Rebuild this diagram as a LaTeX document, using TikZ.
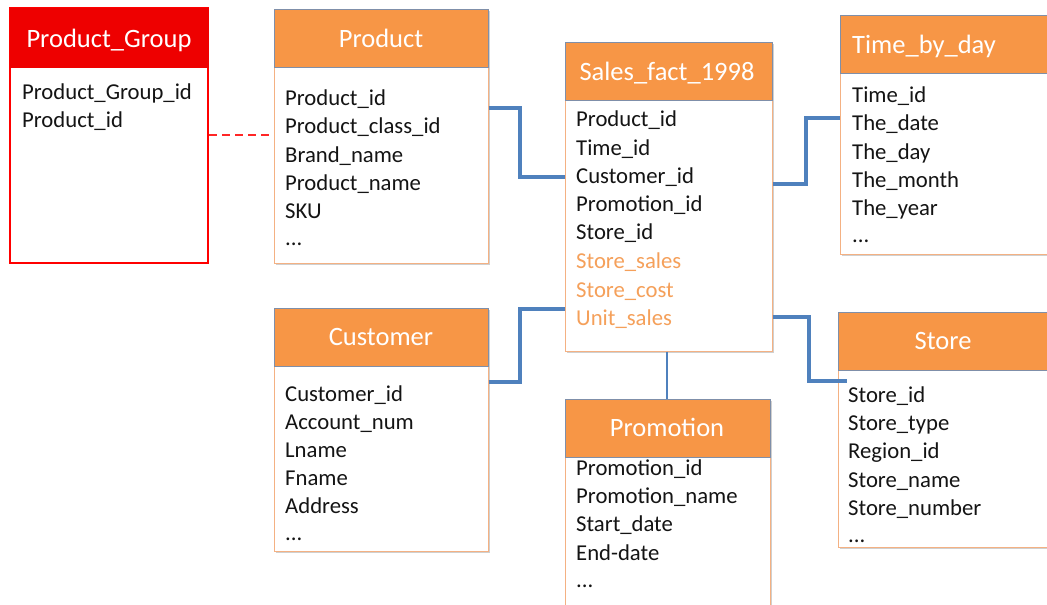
\documentclass[tikz,border=0pt]{standalone}
\usepackage{fontspec}
\setmainfont{Carlito}
\usetikzlibrary{fit,shadows}
\definecolor{orH}{HTML}{F79646}
\definecolor{hline}{HTML}{7F8FA9}
\definecolor{bline}{HTML}{F4B183}
\definecolor{lnk}{HTML}{4F81BD}
\definecolor{redH}{HTML}{EE0000}
\definecolor{txt}{HTML}{141414}
\definecolor{meas}{HTML}{F5A05A}
\begin{document}
\begin{tikzpicture}[x=1pt,y=-1pt,
 body/.style={draw=bline, line width=1pt, fill=white, inner sep=0pt,
   drop shadow={shadow xshift=1.5pt, shadow yshift=-1.5pt, opacity=0.3, fill=black!60}},
 hdr/.style={draw=hline, line width=0.8pt, fill=orH, inner sep=0pt},
 ttl/.style={anchor=base, text=white, font=\fontsize{26.5}{31}\selectfont, inner sep=0pt},
 row/.style={anchor=base west, text=txt, font=\fontsize{22.7}{27}\selectfont, inner sep=0pt},
 mrow/.style={row, text=meas},
 link/.style={draw=lnk, line width=3.6pt},
 ]
\useasboundingbox[fill=white] (0,0) rectangle (1047,605);

% Product_Group
\node[draw=red, line width=2pt, fill=white, inner sep=0pt, fit={(10,8)(208,263)}] (pgb) {};
\node[draw=redH, fill=redH, inner sep=0pt, fit={(10,8)(208,67)}] (pgh) {};
\node[ttl] (pgt) at (109,47) {Product\_Group};
\node[row] (pg1) at (22,99) {Product\_Group\_id};
\node[row] (pg2) at (22,127) {Product\_id};

% Product
\node[body, fit={(274,9)(488,263)}] (prb) {};
\node[hdr, fit={(274,9)(488,67)}] (prh) {};
\node[ttl] (prt) at (381,47) {Product};
\node[row] (pr1) at (285,105) {Product\_id};
\node[row] (pr2) at (285,133) {Product\_class\_id};
\node[row] (pr3) at (285,162) {Brand\_name};
\node[row] (pr4) at (285,190) {Product\_name};
\node[row] (pr5) at (285,218) {SKU};
\node[row] (pr6) at (285,245) {...};

% Sales_fact_1998
\node[body, fit={(565,42)(772,351)}] (sfb) {};
\node[hdr, fit={(565,42)(772,100)}] (sfh) {};
\node[ttl] (sft) at (667,80) {Sales\_fact\_1998};
\node[row] (sf1) at (576,126) {Product\_id};
\node[row] (sf2) at (576,155) {Time\_id};
\node[row] (sf3) at (576,183) {Customer\_id};
\node[row] (sf4) at (576,211) {Promotion\_id};
\node[row] (sf5) at (576,239) {Store\_id};
\node[mrow] (sf6) at (576,268) {Store\_sales};
\node[mrow] (sf7) at (576,297) {Store\_cost};
\node[mrow] (sf8) at (576,325) {Unit\_sales};

% Time_by_day
\node[body, fit={(840,15)(1060,254)}] (tdb) {};
\node[hdr, fit={(840,15)(1060,73)}] (tdh) {};
\node[ttl, anchor=base west] (tdt) at (852,53) {Time\_by\_day};
\node[row] (td1) at (852,102) {Time\_id};
\node[row] (td2) at (852,130) {The\_date};
\node[row] (td3) at (852,159) {The\_day};
\node[row] (td4) at (852,187) {The\_month};
\node[row] (td5) at (852,215) {The\_year};
\node[row] (td6) at (852,242) {...};

% Customer
\node[body, fit={(274,308)(488,551)}] (cub) {};
\node[hdr, fit={(274,308)(488,366)}] (cuh) {};
\node[ttl] (cut) at (381,345) {Customer};
\node[row] (cu1) at (285,401) {Customer\_id};
\node[row] (cu2) at (285,429) {Account\_num};
\node[row] (cu3) at (285,457) {Lname};
\node[row] (cu4) at (285,485) {Fname};
\node[row] (cu5) at (285,513) {Address};
\node[row] (cu6) at (285,540) {...};

% Promotion
\node[body, fit={(565,399)(770,620)}] (pmb) {};
\node[hdr, fit={(565,399)(770,457)}] (pmh) {};
\node[ttl] (pmt) at (667,436) {Promotion};
\node[row] (pm1) at (576,475) {Promotion\_id};
\node[row] (pm2) at (576,503) {Promotion\_name};
\node[row] (pm3) at (576,531) {Start\_date};
\node[row] (pm4) at (576,560) {End-date};
\node[row] (pm5) at (576,587) {...};

% Store
\node[body, fit={(838,312)(1060,547)}] (stb) {};
\node[hdr, fit={(838,312)(1060,370)}] (sth) {};
\node[ttl] (stt) at (943,349) {Store};
\node[row] (st1) at (848,402) {Store\_id};
\node[row] (st2) at (848,430) {Store\_type};
\node[row] (st3) at (848,458) {Region\_id};
\node[row] (st4) at (848,487) {Store\_name};
\node[row] (st5) at (848,515) {Store\_number};
\node[row] (st6) at (848,542) {...};

% connectors
\coordinate (stin) at (847,381);
\draw[link] (prb.east |- 0,108) -| (520,140) |- (sfb.west |- 0,177);
\draw[link] (cub.east |- 0,382) -| (520,340) |- (sfb.west |- 0,309);
\draw[link] (sfb.east |- 0,184) -| (806,150) |- (tdb.west |- 0,118);
\draw[link] (sfb.east |- 0,317) -| (809,350) |- (stin);
\draw[draw=lnk, line width=2.2pt] (sfb.south -| 667,0) -- (pmh.north -| 667,0);
\draw[draw=red!85!white, line width=1.6pt, dash pattern=on 8pt off 5pt] (pgb.east |- 0,135) -- (prb.west |- 0,135);
\end{tikzpicture}
\end{document}
